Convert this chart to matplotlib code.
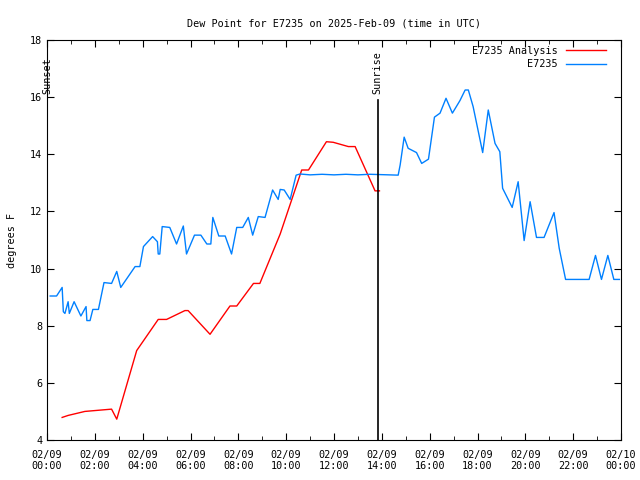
import datetime as dt
import matplotlib
matplotlib.use("Agg")
import matplotlib.pyplot as plt
import matplotlib.dates as mdates

day = dt.datetime(2025, 2, 9)

# analysis series (time UTC, dew point F)
ana_times = ["00:38", "00:53", "01:35", "02:00", "02:42", "02:55", "03:45", "04:39",
             "05:00", "05:46", "05:54", "06:49", "07:39", "07:56", "08:38", "08:54",
             "09:45", "10:39", "10:56", "11:41", "11:58", "12:36", "12:53", "13:43", "13:54"]
ana_vals = [4.79, 4.86, 5.0, 5.03, 5.08, 4.73, 7.13, 8.22,
            8.22, 8.53, 8.53, 7.70, 8.69, 8.69, 9.48, 9.48,
            11.21, 13.45, 13.45, 14.44, 14.42, 14.27, 14.27, 12.72, 12.72]

# observed series
obs_times = ["00:08", "00:24", "00:38", "00:41", "00:45", "00:53", "00:56", "01:08", "01:25", "01:38",
             "01:40", "01:48", "01:55", "02:09", "02:23", "02:42", "02:55", "03:05", "03:41", "03:53",
             "04:02", "04:25", "04:37", "04:39", "04:43", "04:49", "05:08", "05:25", "05:42", "05:50",
             "06:10", "06:26", "06:41", "06:51", "06:56", "07:11", "07:27", "07:43", "07:56", "08:11",
             "08:25", "08:36", "08:50", "09:07", "09:26", "09:40", "09:45", "09:55", "10:10", "10:25",
             "10:35", "11:00", "11:30", "12:00", "12:30", "13:00", "13:30", "14:41", "14:46", "14:56",
             "15:06", "15:27", "15:40", "15:57", "16:12", "16:26", "16:41", "16:57", "17:16", "17:29",
             "17:37", "17:49", "18:13", "18:27", "18:44", "18:56", "19:03", "19:27", "19:42", "19:57",
             "20:12", "20:28", "20:47", "21:12", "21:25", "21:41", "22:40", "22:56", "23:11", "23:27",
             "23:42", "23:56"]
obs_vals = [9.04, 9.04, 9.34, 8.49, 8.43, 8.84, 8.43, 8.84, 8.34, 8.67,
            8.18, 8.18, 8.57, 8.57, 9.51, 9.48, 9.90, 9.34, 10.07, 10.07,
            10.77, 11.12, 10.94, 10.51, 10.51, 11.47, 11.44, 10.86, 11.49, 10.51,
            11.17, 11.17, 10.86, 10.86, 11.79, 11.14, 11.14, 10.51, 11.44, 11.44,
            11.79, 11.17, 11.82, 11.79, 12.75, 12.42, 12.77, 12.75, 12.42, 13.27,
            13.31, 13.28, 13.30, 13.28, 13.30, 13.28, 13.30, 13.27, 13.63, 14.60,
            14.21, 14.06, 13.68, 13.83, 15.30, 15.44, 15.96, 15.44, 15.88, 16.25,
            16.25, 15.67, 14.06, 15.55, 14.38, 14.09, 12.81, 12.14, 13.04, 10.98,
            12.34, 11.09, 11.09, 11.96, 10.71, 9.62, 9.62, 10.46, 9.62, 10.46,
            9.62, 9.62]

sunset_time = "00:01"
sunrise_time = "13:50"


def to_dt(s):
    h, m = map(int, s.split(":"))
    return day + dt.timedelta(hours=h, minutes=m)


fs = 7.3
plt.rcParams["font.family"] = "DejaVu Sans Mono"
plt.rcParams["font.size"] = fs

fig = plt.figure(figsize=(6.4, 4.8), dpi=100)
ax = fig.add_axes([47 / 640, 40 / 480, 574 / 640, 400 / 480])

ax.plot([to_dt(t) for t in ana_times], ana_vals, color="#ff0000", lw=1, label="E7235 Analysis")
ax.plot([to_dt(t) for t in obs_times], obs_vals, color="#0080ff", lw=1, label="E7235")

for t, name in [(sunset_time, "Sunset"), (sunrise_time, "Sunrise")]:
    x = to_dt(t)
    ax.plot([x, x], [4, 15.9], color="black", lw=1.2)
    ax.text(x, 16.1, name, rotation=90, ha="center", va="bottom", fontsize=fs)

ax.set_xlim(day, day + dt.timedelta(days=1))
ax.set_ylim(4, 18)
ax.set_yticks(range(4, 19, 2))
ax.xaxis.set_major_locator(mdates.HourLocator(byhour=range(0, 24, 2)))
ax.xaxis.set_minor_locator(mdates.HourLocator())
ax.xaxis.set_major_formatter(mdates.DateFormatter("%m/%d\n%H:%M"))
ax.tick_params(which="both", direction="in", top=True, right=True, labelsize=fs)
ax.tick_params(which="major", length=5)
ax.tick_params(which="minor", length=3)
ax.tick_params(axis="x", pad=7)

ax.set_title("Dew Point for E7235 on 2025-Feb-09 (time in UTC)", fontsize=fs, pad=10)
ax.set_ylabel("degrees F", fontsize=fs, labelpad=9)

ax.legend(loc="upper right", bbox_to_anchor=(1 - 9 / 574, 1.0), frameon=False,
          markerfirst=False, handlelength=4, handletextpad=0.8, borderaxespad=0.15,
          labelspacing=0.35, fontsize=fs)

fig.savefig("out.png", dpi=100)
